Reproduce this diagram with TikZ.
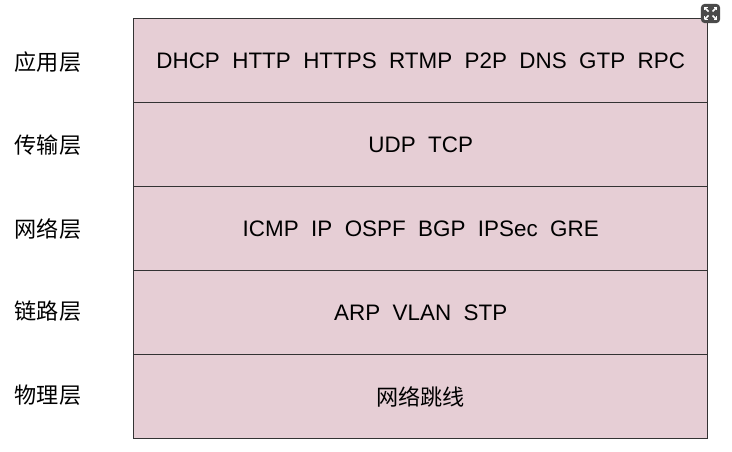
\documentclass[tikz,border=0pt]{standalone}
\usepackage{fontspec}
\setmainfont{Liberation Sans}
\newfontfamily\cjk{Noto Sans CJK SC}
\begin{document}
\begin{tikzpicture}[x=0.75pt,y=-0.75pt,
  layerbox/.style={draw=black!80,line width=1.1pt,fill=layerpink,minimum width=430.5pt,minimum height=63pt,inner sep=0pt,anchor=north west},
  proto/.style={font=\fontsize{16.8pt}{19pt}\selectfont},
  lname/.style={font=\cjk\fontsize{16.6pt}{19pt}\selectfont}]
\definecolor{layerpink}{HTML}{E6CED5}
\definecolor{icongray}{HTML}{4A4A4A}
\useasboundingbox (0,0) rectangle (732,452);
\fill[white] (0,0) rectangle (732,452);
\node[layerbox] (l5) at (133,18) {};
\node[layerbox] (l4) at (133,102) {};
\node[layerbox] (l3) at (133,186) {};
\node[layerbox] (l2) at (133,270) {};
\node[layerbox] (l1) at (133,354) {};
\node[proto] (t5) at (l5.center) {DHCP\ \ HTTP\ \ HTTPS\ \ RTMP\ \ P2P\ \ DNS\ \ GTP\ \ RPC};
\node[proto] (t4) at (l4.center) {UDP\ \ TCP};
\node[proto] (t3) at (l3.center) {ICMP\ \ IP\ \ OSPF\ \ BGP\ \ IPSec\ \ GRE};
\node[proto] (t2) at (l2.center) {ARP\ \ VLAN\ \ STP};
\node[lname] (t1) at (l1.center) {网络跳线};
\node[lname] (n5) at (48,62) {应用层};
\node[lname] (n4) at (48,145) {传输层};
\node[lname] (n3) at (48,229) {网络层};
\node[lname] (n2) at (48,311) {链路层};
\node[lname] (n1) at (48,395) {物理层};
% expand icon
\node[fill=icongray,rounded corners=3pt,minimum size=14.5pt,inner sep=0pt] (icon) at (710.5,13.5) {};
\begin{scope}[white,line width=1.2pt]
\draw (704.5,7.5) -- (708.5,11.5); \draw (704.5,7.5) -- (707.5,7.5); \draw (704.5,7.5) -- (704.5,10.5);
\draw (716.5,7.5) -- (712.5,11.5); \draw (716.5,7.5) -- (713.5,7.5); \draw (716.5,7.5) -- (716.5,10.5);
\draw (704.5,19.5) -- (708.5,15.5); \draw (704.5,19.5) -- (707.5,19.5); \draw (704.5,19.5) -- (704.5,16.5);
\draw (716.5,19.5) -- (712.5,15.5); \draw (716.5,19.5) -- (713.5,19.5); \draw (716.5,19.5) -- (716.5,16.5);
\end{scope}
\end{tikzpicture}
\end{document}
